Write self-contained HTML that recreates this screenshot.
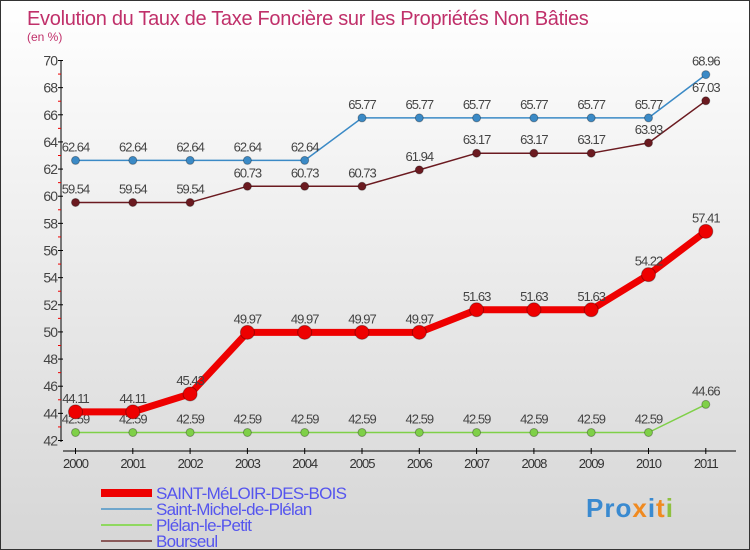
<!DOCTYPE html>
<html><head><meta charset="utf-8"><style>
body{margin:0}
#c{width:748px;height:548px;border:1px solid #333;position:relative;background:linear-gradient(#fff,#d6d6d6);font-family:"Liberation Sans",sans-serif;overflow:hidden}
</style></head><body>
<div id="c">
<svg id="s" width="748" height="548"></svg>
</div>
<script>
const years=['2000','2001','2002','2003','2004','2005','2006','2007','2008','2009','2010','2011'];
const saintMeloir=[44.11,44.11,45.43,49.97,49.97,49.97,49.97,51.63,51.63,51.63,54.22,57.41];
const saintMichel=[62.64,62.64,62.64,62.64,62.64,65.77,65.77,65.77,65.77,65.77,65.77,68.96];
const plelan=[42.59,42.59,42.59,42.59,42.59,42.59,42.59,42.59,42.59,42.59,42.59,44.66];
const bourseul=[59.54,59.54,59.54,60.73,60.73,60.73,61.94,63.17,63.17,63.17,63.93,67.03];
const yTicks=[42,44,46,48,50,52,54,56,58,60,62,64,66,68,70];
const s=document.getElementById('s');const NS='http://www.w3.org/2000/svg';
function el(t,a,txt){const e=document.createElementNS(NS,t);for(const k in a)e.setAttribute(k,a[k]);if(txt!==undefined)e.textContent=txt;s.appendChild(e);return e;}
const X=i=>74.5+i*57.3, Y=v=>439.5-(v-42)*(380/28);
let t=el('text',{x:26,y:24,'font-size':20,fill:'#c0306a','letter-spacing':'-0.3'},'Evolution du Taux de Taxe Foncière sur les Propriétés Non Bâties');

t=el('text',{x:26,y:40,'font-size':12,fill:'#c0306a'},'(en %)');

let a=el('line',{x1:60,y1:59,x2:60,y2:441,stroke:'#000'});

yTicks.forEach(v=>{let l=el('line',{x1:57,x2:62,y1:Y(v),y2:Y(v),stroke:'#000'});
if(v<70){let m=el('line',{x1:57,x2:60,y1:Y(v+1),y2:Y(v+1),stroke:'#e00'});}
let tx=el('text',{x:56,y:Y(v)+5,'font-size':14,fill:'#444','text-anchor':'end','letter-spacing':'-1'},v);});
a=el('line',{x1:62,y1:450,x2:735,y2:450,stroke:'#000'});
years.forEach((y,i)=>{let l=el('line',{x1:X(i),x2:X(i),y1:447,y2:453,stroke:'#000'});
let tx=el('text',{x:X(i),y:467,'font-size':13,fill:'#333','text-anchor':'middle','letter-spacing':'-1'},y);});
function series(arr,color,w,r,name){
 const p=el('polyline',{points:arr.map((v,i)=>X(i)+','+Y(v)).join(' '),fill:'none',stroke:color,'stroke-width':w,'stroke-linejoin':'round'});
 
 arr.forEach((v,i)=>{const c=el('circle',{cx:X(i),cy:Y(v),r:r,fill:color,stroke:'rgba(0,0,0,0.3)','stroke-width':1});
 
 const tx=el('text',{x:X(i),y:Y(v)-9,'font-size':13,fill:'#444','text-anchor':'middle','letter-spacing':'-1'},v.toFixed(2).replace(/0$/,'').replace(/\.$/,''));
 });
}
series(saintMichel,'#3b8ac6',1.5,4,'saint-michel');
series(bourseul,'#6b1a20',1.5,4,'bourseul');
series(plelan,'#7fd048',1.5,4,'plelan');
series(saintMeloir,'#ee0000',7,7,'saint-meloir');
const leg=[['SAINT-MéLOIR-DES-BOIS','#ee0000',8],['Saint-Michel-de-Plélan','#6fa6cc',2],['Plélan-le-Petit','#8fd860',2],['Bourseul','#8a5a5a',2]];
leg.forEach((g,i)=>{const y=492+i*16;let l=el('line',{x1:100,x2:151,y1:y,y2:y,stroke:g[1],'stroke-width':g[2]});
let tx=el('text',{x:155,y:y+6,'font-size':17,fill:'#5555ee','letter-spacing':'-0.7'},g[0]);});
t=el('text',{x:585,y:516,'font-size':26,'font-weight':'bold',fill:'#3a8ad0','letter-spacing':'1'});

t.innerHTML='Pro<tspan fill="#f08a20">x</tspan><tspan fill="#3a8ad0">i</tspan><tspan fill="#f08a20">t</tspan><tspan fill="#8fc040">i</tspan>';
</script>
</body></html>
